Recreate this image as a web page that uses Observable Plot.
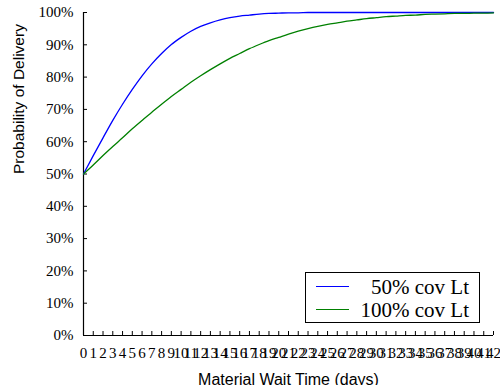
<!DOCTYPE html>
<html><head><meta charset="utf-8">
<script src="https://cdn.jsdelivr.net/npm/d3@7"></script>
<script src="https://cdn.jsdelivr.net/npm/@observablehq/plot@0.6"></script>
<style>
body{margin:0;background:#fff}
#wrap{position:relative;width:500px;height:385px;overflow:hidden;background:#fff}
#legend{position:absolute;left:305px;top:272px;width:173px;height:49px;border:1px solid #000;background:#fff;font-family:"Liberation Serif",serif;font-size:21px;color:#000}
#legend .row{position:absolute;left:0;right:0;height:22px}
#legend .sw{position:absolute;left:10px;width:33px;height:0;border-top:1.3px solid}
#legend .lab{position:absolute;right:10px;line-height:22px}
</style>
</head><body><div id="wrap"></div>
<script>
const days = [0,1,2,3,4,5,6,7,8,9,10,11,12,13,14,15,16,17,18,19,20,21,22,23,24,25,26,27,28,29,30,31,32,33,34,35,36,37,38,39,40,41,42];
const cov50 = [0.500,0.557,0.612,0.666,0.716,0.762,0.804,0.841,0.873,0.901,0.923,0.942,0.957,0.968,0.977,0.984,0.989,0.992,0.995,0.997,0.998,0.999,0.999,1.000,1.000,1.000,1.000,1.000,1.000,1.000,1.000,1.000,1.000,1.000,1.000,1.000,1.000,1.000,1.000,1.000,1.000,1.000,1.000];
const cov100 = [0.500,0.528,0.557,0.585,0.612,0.640,0.666,0.691,0.716,0.740,0.762,0.784,0.804,0.823,0.841,0.858,0.873,0.888,0.901,0.913,0.923,0.933,0.942,0.950,0.957,0.963,0.968,0.973,0.977,0.981,0.984,0.987,0.989,0.991,0.992,0.994,0.995,0.996,0.997,0.997,0.998,0.998,0.999];
const seriesNames = ["50% cov Lt", "100% cov Lt"];
const seriesColors = ["#0000ff", "#008000"];
const yTicks = [0,0.1,0.2,0.3,0.4,0.5,0.6,0.7,0.8,0.9,1.0];
const xTicks = days;
const xLabel = "Material Wait Time (days)";
const yLabel = "Probability of Delivery";

const rows = [];
days.forEach((d, i) => {
  rows.push({day: d, p: cov50[i], s: seriesNames[0]});
  rows.push({day: d, p: cov100[i], s: seriesNames[1]});
});

const serif = "Liberation Serif, Times New Roman, serif";
const sans = "Liberation Sans, Arial, sans-serif";

const chart = Plot.plot({
  width: 500, height: 385,
  marginLeft: 83, marginRight: 7, marginTop: 12, marginBottom: 50,
  style: {fontFamily: serif, fontSize: "15px", color: "#000", background: "#fff", overflow: "visible"},
  x: {domain: [0, 42]},
  y: {domain: [0, 1]},
  color: {domain: seriesNames, range: seriesColors},
  marks: [
    // inward tick marks (drawn outward, then shifted inside)
    Plot.axisY(yTicks, {tickSize: 4, dx: 4, tickFormat: () => "", label: null, stroke: "#000"}),
    Plot.axisX(xTicks, {tickSize: 4, dy: -4, tickFormat: () => "", label: null, stroke: "#000"}),
    // tick labels
    Plot.axisY(yTicks, {tickSize: 0, tickPadding: 10, tickFormat: d3.format(".0%"), label: null, fontSize: 15, fontFamily: serif, fill: "#000"}),
    Plot.axisX(xTicks, {tickSize: 0, tickPadding: 12, tickFormat: d3.format("d"), label: null, fontSize: 15, fontFamily: serif, fill: "#000"}),
    Plot.ruleX([0], {stroke: "#000", strokeWidth: 1.2}),
    Plot.ruleY([0], {stroke: "#000", strokeWidth: 1.2}),
    Plot.line(rows, {x: "day", y: "p", z: "s", stroke: "s", strokeWidth: 1.3, curve: "monotone-x"}),
    Plot.text([yLabel], {frameAnchor: "left", dx: -64, rotate: -90, fontFamily: sans, fontSize: 15.5, fill: "#000"}),
    Plot.text([xLabel], {frameAnchor: "bottom", dy: 38, lineAnchor: "top", fontFamily: sans, fontSize: 16, fill: "#000"})
  ]
});

const wrap = document.getElementById("wrap");
wrap.appendChild(chart);
const legend = document.createElement("div");
legend.id = "legend";
seriesNames.forEach((n, i) => {
  const r = document.createElement("div");
  r.className = "row";
  r.style.top = (3 + i * 23) + "px";
  const sw = document.createElement("span");
  sw.className = "sw";
  sw.style.borderTopColor = seriesColors[i];
  sw.style.top = "10px";
  const lab = document.createElement("span");
  lab.className = "lab";
  lab.textContent = n;
  r.appendChild(sw); r.appendChild(lab);
  legend.appendChild(r);
});
wrap.appendChild(legend);
</script>
</body></html>
